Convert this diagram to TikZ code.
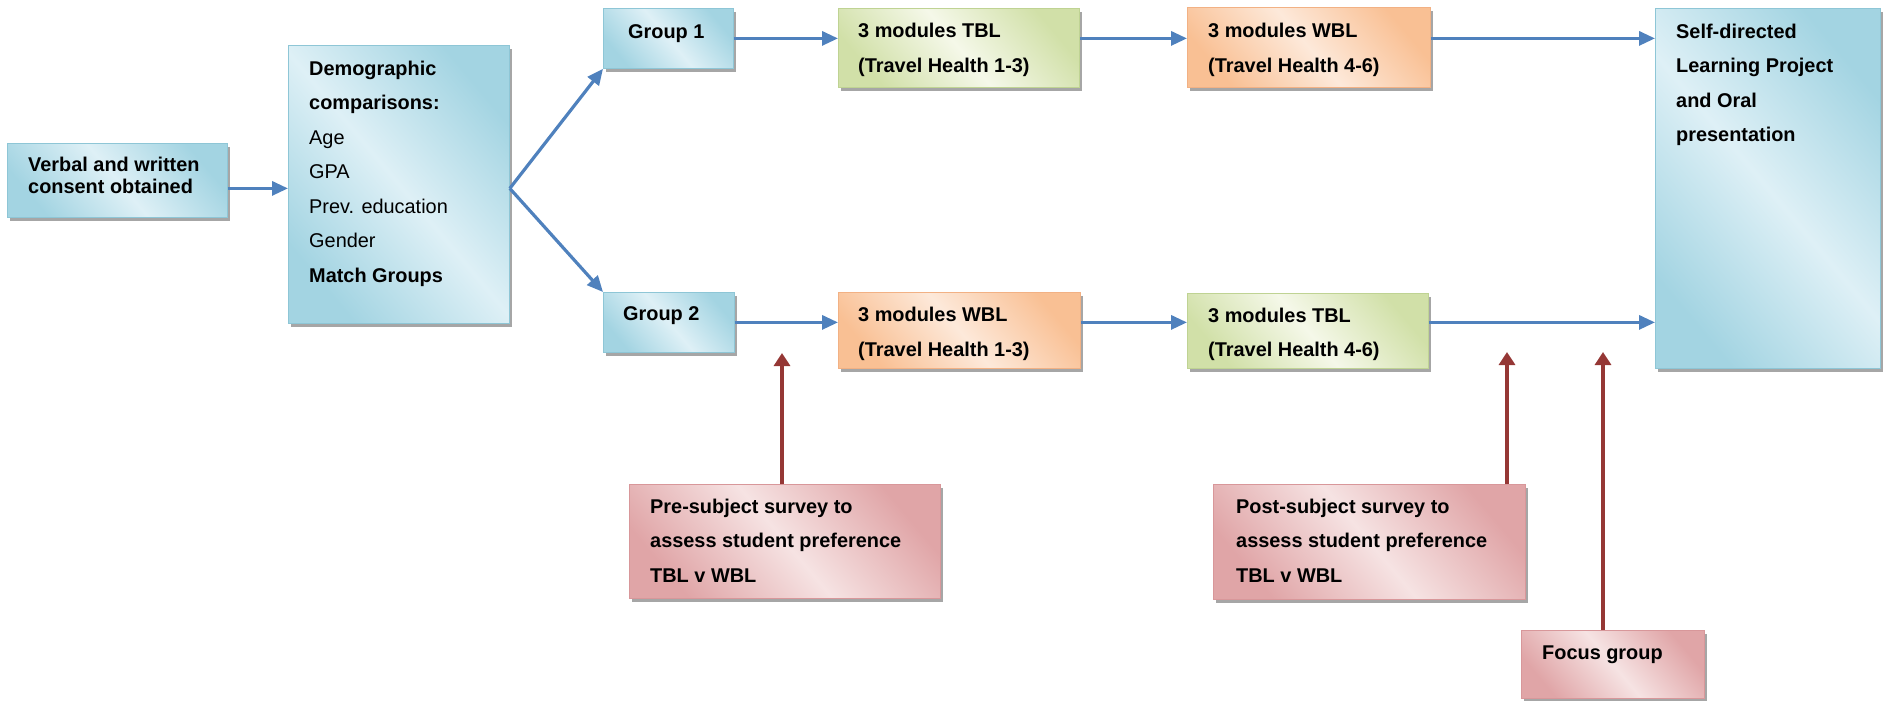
\documentclass[tikz,border=0pt]{standalone}
\usepackage{fontspec}
\setmainfont{Liberation Sans}
\usetikzlibrary{arrows.meta,shadows}

\definecolor{bluedark}{HTML}{A3D4E2}
\definecolor{bluelight}{HTML}{DEF0F6}
\definecolor{blueline}{HTML}{8EC6D6}
\definecolor{greendark}{HTML}{D1E0A8}
\definecolor{greenlight}{HTML}{F5F8E9}
\definecolor{greenline}{HTML}{BFD393}
\definecolor{orangedark}{HTML}{F9C094}
\definecolor{orangelight}{HTML}{FDE9DA}
\definecolor{orangeline}{HTML}{F2B184}
\definecolor{pinkdark}{HTML}{E0A5A7}
\definecolor{pinklight}{HTML}{F6E3E3}
\definecolor{pinkline}{HTML}{D8979A}
\definecolor{flowblue}{HTML}{4F81BD}
\definecolor{surveyred}{HTML}{953735}

\tikzset{
  panel/.style={anchor=north west, inner sep=0pt, line width=0.8pt,
    drop shadow={shadow xshift=3pt, shadow yshift=-4pt, fill=black!35, opacity=1}},
  bluebox/.style={panel, draw=blueline, top color=bluedark, bottom color=bluedark,
    middle color=bluelight, shading angle=-50},
  greenbox/.style={panel, draw=greenline, top color=greendark, bottom color=greendark,
    middle color=greenlight, shading angle=-50},
  orangebox/.style={panel, draw=orangeline, top color=orangedark, bottom color=orangedark,
    middle color=orangelight, shading angle=-50},
  pinkbox/.style={panel, draw=pinkline, top color=pinkdark, bottom color=pinkdark,
    middle color=pinklight, shading angle=-50},
  txt/.style={anchor=north west, inner sep=0pt, align=left,
    font=\fontsize{19.9}{34.5}\selectfont\bfseries},
  flow/.style={draw=flowblue, line width=3.2pt, -{Triangle[length=16pt,width=14pt]}},
  survey/.style={draw=surveyred, line width=3.2pt, -{Triangle[length=13pt,width=16pt]}},
}

\begin{document}
\begin{tikzpicture}[x=1pt,y=-1pt]
\useasboundingbox (0,0) rectangle (1885,701);

% boxes
\node[bluebox, minimum width=220pt, minimum height=74pt] (verbal) at (7,143) {};
\node[bluebox, minimum width=221pt, minimum height=278pt] (demo) at (288,45) {};
\node[bluebox, minimum width=130pt, minimum height=60pt] (g1) at (603,8) {};
\node[bluebox, minimum width=131pt, minimum height=60pt] (g2) at (603,292) {};
\node[greenbox, minimum width=241pt, minimum height=79pt] (tbl1) at (838,8) {};
\node[orangebox, minimum width=243pt, minimum height=80pt] (wbl1) at (1187,7) {};
\node[orangebox, minimum width=242pt, minimum height=76pt] (wbl2) at (838,292) {};
\node[greenbox, minimum width=241pt, minimum height=75pt] (tbl2) at (1187,293) {};
\node[bluebox, minimum width=225pt, minimum height=360pt] (sdl) at (1655,8) {};
\node[pinkbox, minimum width=311pt, minimum height=114pt] (pre) at (629,484) {};
\node[pinkbox, minimum width=312pt, minimum height=115pt] (post) at (1213,484) {};
\node[pinkbox, minimum width=183pt, minimum height=68pt] (focus) at (1521,630) {};

% texts (first baseline minus cap height)
\node[txt, font=\fontsize{19.9}{22.7}\selectfont\bfseries] (verbalT) at (28,156.5)
  {Verbal and written\\consent obtained};
\node[txt, font=\fontsize{19.9}{34.5}\selectfont] (demoT) at (309,60.7)
  {\textbf{Demographic}\\\textbf{comparisons:}\\Age\\GPA\\Prev. education\\Gender\\\textbf{Match Groups}};
\node[txt] (g1T) at (628,24.7) {Group 1};
\node[txt] (g2T) at (623,306.7) {Group 2};
\node[txt] (tbl1T) at (858,23) {3 modules TBL\\(Travel Health 1-3)};
\node[txt] (wbl1T) at (1208,23) {3 modules WBL\\(Travel Health 4-6)};
\node[txt] (wbl2T) at (858,307) {3 modules WBL\\(Travel Health 1-3)};
\node[txt] (tbl2T) at (1208,307.5) {3 modules TBL\\(Travel Health 4-6)};
\node[txt] (sdlT) at (1676,23.7) {Self-directed\\Learning Project\\and Oral\\presentation};
\node[txt] (preT) at (650,498.7) {Pre-subject survey to\\assess student preference\\TBL v WBL};
\node[txt] (postT) at (1236,498.7) {Post-subject survey to\\assess student preference\\TBL v WBL};
\node[txt] (focusT) at (1542,645.7) {Focus group};

% flow connectors
\coordinate (split) at ([yshift=-4pt]demo.east);
\draw[flow] (verbal.east |- split) -- (demo.west |- split);
\draw[flow] (split) -- (g1.south west);
\draw[flow] (split) -- (g2.north west);
\draw[flow] (g1.east) -- (tbl1.west |- g1.east);
\draw[flow] (tbl1.east |- g1.east) -- (wbl1.west |- g1.east);
\draw[flow] (wbl1.east |- g1.east) -- (sdl.west |- g1.east);
\draw[flow] (g2.east) -- (wbl2.west |- g2.east);
\draw[flow] (wbl2.east |- g2.east) -- (tbl2.west |- g2.east);
\draw[flow] (tbl2.east |- g2.east) -- (sdl.west |- g2.east);

% survey connectors
\coordinate (preTip) at (782,353);
\coordinate (postTip) at (1507,352);
\coordinate (focusTip) at (1603,352);
\draw[survey] (pre.north -| preTip) -- (preTip);
\draw[survey] (post.north -| postTip) -- (postTip);
\draw[survey] (focus.north -| focusTip) -- (focusTip);
\end{tikzpicture}
\end{document}
